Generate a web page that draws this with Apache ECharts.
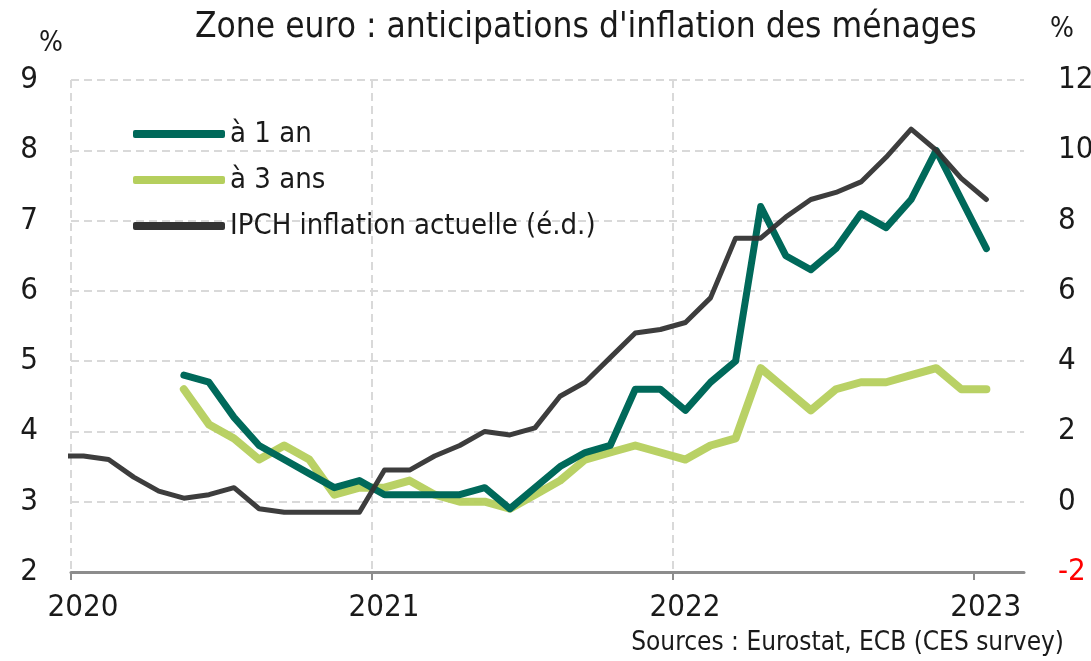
<!DOCTYPE html>
<html>
<head>
<meta charset="utf-8">
<script src="https://cdn.jsdelivr.net/npm/echarts@6/dist/echarts.min.js"></script>
<style>
  html, body { margin: 0; padding: 0; background: #fff; }
  #chart { width: 1091px; height: 661px; }
</style>
</head>
<body>
<div id="chart"></div>
<script>
// mois (de déc. 2019 à janv. 2023)
var months = [
  '2019-12',
  '2020-01', '2020-02', '2020-03', '2020-04', '2020-05', '2020-06',
  '2020-07', '2020-08', '2020-09', '2020-10', '2020-11', '2020-12',
  '2021-01', '2021-02', '2021-03', '2021-04', '2021-05', '2021-06',
  '2021-07', '2021-08', '2021-09', '2021-10', '2021-11', '2021-12',
  '2022-01', '2022-02', '2022-03', '2022-04', '2022-05', '2022-06',
  '2022-07', '2022-08', '2022-09', '2022-10', '2022-11', '2022-12',
  '2023-01'
];
// IPCH, glissement annuel (échelle de droite)
var hicp = [
  1.3,
  1.3, 1.2, 0.7, 0.3, 0.1, 0.2, 0.4, -0.2, -0.3, -0.3, -0.3, -0.3,
  0.9, 0.9, 1.3, 1.6, 2.0, 1.9, 2.1, 3.0, 3.4, 4.1, 4.8, 4.9,
  5.1, 5.8, 7.5, 7.5, 8.1, 8.6, 8.8, 9.1, 9.8, 10.6, 10.0, 9.2,
  8.6
];
// anticipations CES, à partir de mai 2020
var cesStart = '2020-05';
var oneYear = [
  4.8, 4.7, 4.2, 3.8, 3.6, 3.4, 3.2, 3.3,
  3.1, 3.1, 3.1, 3.1, 3.2, 2.9, 3.2, 3.5, 3.7, 3.8, 4.6, 4.6,
  4.3, 4.7, 5.0, 7.2, 6.5, 6.3, 6.6, 7.1, 6.9, 7.3, 8.0, 7.3,
  6.6
];
var threeYears = [
  4.6, 4.1, 3.9, 3.6, 3.8, 3.6, 3.1, 3.2,
  3.2, 3.3, 3.1, 3.0, 3.0, 2.9, 3.1, 3.3, 3.6, 3.7, 3.8, 3.7,
  3.6, 3.8, 3.9, 4.9, 4.6, 4.3, 4.6, 4.7, 4.7, 4.8, 4.9, 4.6,
  4.6
];
var yearTicks = [0, 12, 24, 36];
var yearLabels = ['2020', '2021', '2022', '2023'];

var FONT = '"Liberation Sans Narrow", "DejaVu Sans Condensed", sans-serif';
var INK = '#1a1a1a';
var C1 = '#00695a', C3 = '#b5cf5d', CH = '#333333';

// position en mois depuis janv. 2020, point placé au milieu du mois
function monthPos(m) {
  var p = m.split('-');
  return (+p[0] - 2020) * 12 + (+p[1] - 1) + 0.5;
}

function toPoints(startMonth, values) {
  var i0 = months.indexOf(startMonth);
  return values.map(function (v, i) {
    return [monthPos(months[i0 + i]), v];
  });
}

var chart = echarts.init(document.getElementById('chart'), null, {renderer: 'canvas'});

var gridDash = {color: '#d9d9d9', width: 2, type: [8, 5]};

var option = {
  backgroundColor: '#fff',
  animation: false,
  textStyle: {fontFamily: FONT},
  title: [{
    text: 'Zone euro : anticipations d\'inflation des ménages',
    left: 190,
    top: 5,
    textStyle: {fontFamily: FONT, fontSize: 35, fontWeight: 'normal', color: INK}
  }, {
    text: 'Sources : Eurostat, ECB (CES survey)',
    right: 22,
    bottom: 0,
    textStyle: {fontFamily: FONT, fontSize: 26, fontWeight: 'normal', color: INK}
  }],
  legend: {
    orient: 'vertical',
    left: 128,
    top: 114,
    icon: 'roundRect',
    itemWidth: 92,
    itemHeight: 8,
    itemGap: 16,
    textStyle: {fontFamily: FONT, fontSize: 29, lineHeight: 30, color: INK},
    data: [
      {name: 'à 1 an', itemStyle: {color: C1}},
      {name: 'à 3 ans', itemStyle: {color: C3}},
      {name: 'IPCH inflation actuelle (é.d.)', itemStyle: {color: CH}}
    ]
  },
  grid: {left: 71, right: 67, top: 80, bottom: 89, containLabel: false, outerBoundsMode: 'none'},
  xAxis: {
    type: 'value',
    min: 0,
    max: 38,
    interval: 12,
    axisLine: {show: true, onZero: false, lineStyle: {color: '#8c8c8c', width: 3}},
    axisTick: {show: true, length: 8, customValues: yearTicks, lineStyle: {color: '#8c8c8c', width: 2}},
    axisLabel: {
      customValues: yearTicks,
      margin: 20,
      padding: [0, 0, 0, 24],
      fontFamily: FONT,
      fontSize: 31,
      color: INK,
      formatter: function (v) {
        var i = yearTicks.indexOf(v);
        return i >= 0 ? yearLabels[i] : '';
      }
    },
    splitLine: {show: true, showMaxLine: false, lineStyle: gridDash}
  },
  yAxis: [{
    type: 'value',
    min: 2,
    max: 9,
    interval: 1,
    name: '%',
    nameLocation: 'end',
    nameGap: 22,
    nameTextStyle: {fontFamily: FONT, fontSize: 28, color: INK, align: 'right', padding: [0, 8, 0, 0]},
    axisLine: {show: false},
    axisTick: {show: false},
    axisLabel: {margin: 33, fontFamily: FONT, fontSize: 31, color: INK},
    splitLine: {show: true, lineStyle: gridDash}
  }, {
    type: 'value',
    min: -2,
    max: 12,
    interval: 2,
    position: 'right',
    name: '%',
    nameLocation: 'end',
    nameGap: 36,
    nameTextStyle: {fontFamily: FONT, fontSize: 28, color: INK, align: 'left', padding: [0, 0, 0, 26]},
    axisLine: {show: false},
    axisTick: {show: false},
    axisLabel: {
      margin: 34,
      align: 'left',
      fontFamily: FONT,
      fontSize: 31,
      color: function (v) { return +v < 0 ? '#ff0000' : INK; }
    },
    splitLine: {show: false}
  }],
  series: [{
    name: 'à 3 ans',
    type: 'line',
    yAxisIndex: 0,
    symbol: 'none',
    z: 2,
    lineStyle: {color: C3, width: 8, cap: 'round', join: 'round', opacity: 0.95},
    itemStyle: {color: C3},
    data: toPoints(cesStart, threeYears)
  }, {
    name: 'à 1 an',
    type: 'line',
    yAxisIndex: 0,
    symbol: 'none',
    z: 3,
    lineStyle: {color: C1, width: 7, cap: 'round', join: 'round'},
    itemStyle: {color: C1},
    data: toPoints(cesStart, oneYear)
  }, {
    name: 'IPCH inflation actuelle (é.d.)',
    type: 'line',
    yAxisIndex: 1,
    symbol: 'none',
    z: 4,
    lineStyle: {color: CH, width: 5, cap: 'round', join: 'round', opacity: 0.95},
    itemStyle: {color: CH},
    data: toPoints(months[0], hicp)
  }]
};

chart.setOption(option);
</script>
</body>
</html>
